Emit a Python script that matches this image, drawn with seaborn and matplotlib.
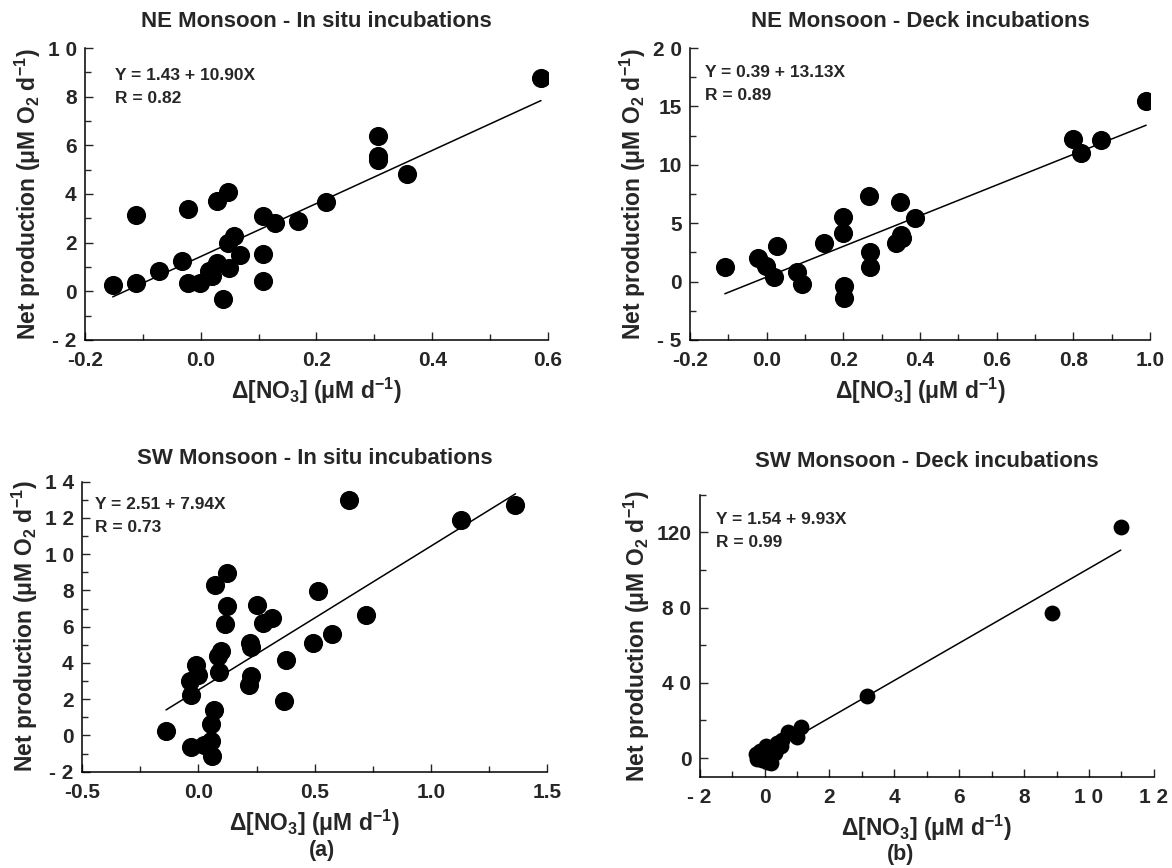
"""
Net production vs nitrate change - NE / SW monsoon incubations
Four-panel scatter with fitted regression lines
"""

import matplotlib
matplotlib.use('Agg')
import matplotlib.pyplot as plt
from matplotlib.ticker import MultipleLocator, FixedLocator
import numpy as np
import pandas as pd
import seaborn as sns

# ---- data ----
# NE Monsoon - In situ
ne_insitu_x = [-0.152, -0.112, -0.112, -0.072, -0.032, -0.022, -0.022, -0.002, 0.020, 0.015,
               0.028, 0.029, 0.038, 0.048, 0.048, 0.049, 0.058, 0.068, 0.108, 0.108,
               0.108, 0.128, 0.168, 0.217, 0.306, 0.306, 0.306, 0.357, 0.588]
ne_insitu_y = [0.26, 3.13, 0.34, 0.82, 1.23, 3.40, 0.36, 0.36, 0.63, 0.84,
               1.17, 3.71, -0.31, 4.10, 1.98, 0.97, 2.28, 1.50, 3.09, 1.54,
               0.43, 2.82, 2.88, 3.69, 6.40, 5.58, 5.39, 4.81, 8.75]

# NE Monsoon - Deck
ne_deck_x = [-0.109, -0.022, -0.002, 0.018, 0.028, 0.078, 0.092, 0.149, 0.199, 0.199,
             0.202, 0.202, 0.267, 0.269, 0.269, 0.338, 0.352, 0.350, 0.348, 0.388,
             0.798, 0.821, 0.871, 0.990]
ne_deck_y = [1.21, 2.06, 1.30, 0.37, 3.08, 0.82, -0.17, 3.33, 5.54, 4.18,
             -0.40, -1.38, 7.29, 2.57, 1.21, 3.33, 3.76, 4.00, 6.81, 5.45,
             12.23, 11.05, 12.12, 15.42]

# SW Monsoon - In situ
sw_insitu_x = [-0.139, -0.033, -0.030, -0.037, -0.012, 0.000, 0.025, 0.055, 0.055, 0.059,
               0.067, 0.072, 0.087, 0.084, 0.097, 0.114, 0.122, 0.125, 0.217, 0.226,
               0.222, 0.226, 0.251, 0.276, 0.318, 0.368, 0.376, 0.493, 0.513, 0.574,
               0.649, 0.722, 1.129, 1.363]
sw_insitu_y = [0.23, -0.65, 2.21, 2.98, 3.87, 3.34, -0.52, -0.30, 0.65, -1.15,
               1.40, 8.32, 3.52, 4.41, 4.68, 6.15, 8.95, 7.14, 2.80, 3.28,
               5.09, 4.86, 7.19, 6.21, 6.48, 1.90, 4.14, 5.11, 7.95, 5.61,
               12.99, 6.62, 11.89, 12.72]

# SW Monsoon - Deck
sw_deck_x = [-0.25, -0.23, -0.14, -0.08, -0.02, 0.03, 0.09, 0.15, 0.20, 0.26,
             0.32, 0.38, 0.50, 0.55, 0.73, 0.99, 1.11, 3.15, 8.87, 10.98]
sw_deck_y = [2.0, -0.5, 3.7, -1.3, 0.3, 6.2, -2.2, 2.0, -2.7, 4.5,
             2.9, 7.9, 6.2, 9.6, 13.8, 11.2, 16.6, 33.1, 77.0, 122.8]

# regression fits as printed on each panel (intercept, slope, R)
fit_intercepts = [1.43, 0.39, 2.51, 1.54]
fit_slopes = [10.90, 13.13, 7.94, 9.93]
fit_r = [0.82, 0.89, 0.73, 0.99]

titles = ['NE Monsoon - In situ incubations', 'NE Monsoon - Deck incubations',
          'SW Monsoon - In situ incubations', 'SW Monsoon - Deck incubations']

sns.set_style('ticks')
plt.rcParams['font.family'] = ['Liberation Sans', 'DejaVu Sans']
plt.rcParams['font.weight'] = 'bold'
plt.rcParams['mathtext.fontset'] = 'custom'
plt.rcParams['mathtext.rm'] = 'Liberation Sans:bold'
plt.rcParams['mathtext.it'] = 'Liberation Sans:bold'
plt.rcParams['mathtext.bf'] = 'Liberation Sans:bold'

PX = 0.72  # points per pixel at dpi 100


def draw_panel(ax, x, y, k, xlim, ylim, xmajor, xminor, ymajor_vals, ymajor_labels,
               yminor, xlabels, msize, title_pad, note_dx, note_dy):
    df = pd.DataFrame({'x': x, 'y': y})
    sns.scatterplot(data=df, x='x', y='y', ax=ax, color='black', s=msize,
                    edgecolor='black', linewidth=0, zorder=3)
    xs = np.array([min(x), max(x)])
    ax.plot(xs, fit_intercepts[k] + fit_slopes[k] * xs, color='black', lw=1.1, zorder=2)

    ax.set_xlim(*xlim)
    ax.set_ylim(*ylim)
    ax.set_xticks(np.arange(xlim[0], xlim[1] + xmajor / 2, xmajor))
    ax.set_xticklabels(xlabels)
    ax.xaxis.set_minor_locator(MultipleLocator(xminor))
    ax.yaxis.set_major_locator(FixedLocator(ymajor_vals))
    ax.set_yticklabels(ymajor_labels)
    ax.yaxis.set_minor_locator(FixedLocator(yminor))
    ax.tick_params(which='both', direction='in', width=1, labelsize=15)
    ax.tick_params(which='major', length=6)
    ax.tick_params(axis='x', which='major', pad=8)
    ax.tick_params(axis='y', which='major', pad=6)
    ax.tick_params(which='minor', length=4)
    for s in ['top', 'right']:
        ax.spines[s].set_visible(False)
    for s in ['left', 'bottom']:
        ax.spines[s].set_linewidth(1.1)
        ax.spines[s].set_color('black')

    ax.set_title(titles[k], fontsize=16, fontweight='bold', pad=title_pad)
    ax.set_xlabel(r'$\Delta$[NO$_3$] (μM d$^{-1}$)', fontsize=16.5, fontweight='bold', labelpad=4)
    ax.set_ylabel(r'Net production (μM O$_2$ d$^{-1}$)', fontsize=16.5, fontweight='bold', labelpad=3)

    lines = [f'Y = {fit_intercepts[k]:.2f} + {fit_slopes[k]:.2f}X', f'R = {fit_r[k]:.2f}']
    for i, line in enumerate(lines):
        ax.annotate(line, xy=(0, 1), xycoords='axes fraction',
                    xytext=(note_dx * PX, -(note_dy + 23 * i) * PX), textcoords='offset points',
                    fontsize=12.5, fontweight='bold', va='center', ha='left')


fig = plt.figure(figsize=(11.72, 8.68), dpi=100)

ax1 = fig.add_axes([0.0725, 0.6083, 0.395, 0.3364])
draw_panel(ax1, ne_insitu_x, ne_insitu_y, 0, (-0.2, 0.6), (-2, 10), 0.2, 0.1,
           [-2, 0, 2, 4, 6, 8, 10], ['- 2', '0', '2', '4', '6', '8', '1 0'],
           [-1, 1, 3, 5, 7, 9], ['-0.2', '0.0', '0.2', '0.4', '0.6'], 190,
           15, 30, 27)

ax2 = fig.add_axes([0.5887, 0.6083, 0.3925, 0.3364])
draw_panel(ax2, ne_deck_x, ne_deck_y, 1, (-0.2, 1.0), (-5, 20), 0.2, 0.1,
           [-5, 0, 5, 10, 15, 20], ['- 5', '0', '5', '10', '15', '2 0'],
           [-2.5, 2.5, 7.5, 12.5, 17.5], ['-0.2', '0.0', '0.2', '0.4', '0.6', '0.8', '1.0'], 190,
           15, 15, 24)

ax3 = fig.add_axes([0.070, 0.111, 0.397, 0.334])
draw_panel(ax3, sw_insitu_x, sw_insitu_y, 2, (-0.5, 1.5), (-2, 14), 0.5, 0.25,
           [-2, 0, 2, 4, 6, 8, 10, 12, 14],
           ['- 2', '0', '2', '4', '6', '8', '1 0', '1 2', '1 4'],
           [-1, 1, 3, 5, 7, 9, 11, 13], ['-0.5', '0.0', '0.5', '1.0', '1.5'], 190,
           13, 13, 23)

ax4 = fig.add_axes([0.597, 0.105, 0.3875, 0.325])
draw_panel(ax4, sw_deck_x, sw_deck_y, 3, (-2, 12), (-10, 140), 2, 1,
           [0, 40, 80, 120], ['0', '4 0', '8 0', '120'],
           [20, 60, 100, 140], ['- 2', '0', '2', '4', '6', '8', '1 0', '1 2'], 130,
           20, 16, 25)

fig.text(0.275, 0.0207, '(a)', fontsize=15.5, fontweight='bold', ha='center', va='center')
fig.text(0.768, 0.015, '(b)', fontsize=15.5, fontweight='bold', ha='center', va='center')

fig.savefig('out.png', dpi=100)
plt.close(fig)
